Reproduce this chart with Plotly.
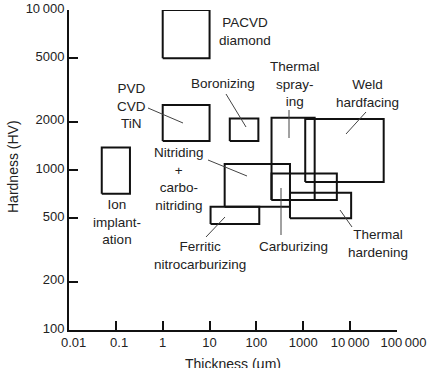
import plotly.graph_objects as go
import math

# ---- data ----
processes = ["PACVD diamond", "PVD CVD TiN", "Ion implantation", "Boronizing",
             "Thermal spraying", "Weld hardfacing", "Nitriding + carbonitriding",
             "Ferritic nitrocarburizing", "Carburizing", "Thermal hardening"]
thickness_min = [1, 1, 0.05, 27, 210, 1100, 21, 10.5, 210, 520]
thickness_max = [10, 10, 0.2, 110, 1750, 52000, 520, 115, 5200, 10500]
hardness_min = [5000, 1520, 710, 1520, 650, 840, 590, 460, 650, 500]
hardness_max = [10000, 2550, 1380, 2100, 2120, 2080, 1090, 590, 950, 720]

x_tickvals = [0.01, 0.1, 1, 10, 100, 1000, 10000, 100000]
x_ticktext = ["\u2002\u20090.01", "\u20020.1", "1", "10", "100", "1000", "10\u2009000",
              "\u2002\u2002100\u2009000"]
y_tickvals = [100, 200, 500, 1000, 2000, 5000, 10000]
y_ticktext = ["100", "200", "500", "1000", "2000", "5000", "10\u2009000"]

# ---- layout helpers (pixel -> paper) ----
L, R, T, B = 69, 397, 10, 330
def px(x): return (x - L) / (R - L)
def py(y): return (B - y) / (B - T)

labels = [
    ("PACVD<br>diamond", 245, 31.5),
    ("PVD<br>CVD<br>TiN", 131.5, 105.5),
    ("Boronizing", 223, 83),
    ("Thermal<br>spray-<br>ing", 295, 83.5),
    ("Weld<br>hardfacing", 367, 93),
    ("Nitriding<br>+<br>carbo-<br>nitriding", 179, 179),
    ("Ion<br>implant-<br>ation", 117, 222),
    ("Ferritic<br>nitrocarburizing", 200, 255),
    ("Carburizing", 293, 246),
    ("Thermal<br>hardening", 378, 243.5),
]
leaders = [
    (148, 108, 183, 123), (226, 94, 246, 127), (289, 110, 289, 138),
    (366, 112, 346, 134), (208, 160, 247, 176), (206, 237, 225, 217),
    (281, 188, 281, 235), (340, 210, 352, 227),
]

fig = go.Figure()
for n, x0, x1, y0, y1 in zip(processes, thickness_min, thickness_max, hardness_min, hardness_max):
    fig.add_trace(go.Scatter(
        x=[x0, x1, x1, x0, x0], y=[y0, y0, y1, y1, y0], mode="lines", name=n,
        line=dict(color="#111111", width=2), hoverinfo="name", showlegend=False))

font = dict(family="Liberation Sans, Arial, sans-serif", size=13.5, color="#222222")
for text, x, y in labels:
    fig.add_annotation(text=text, x=px(x), y=py(y), xref="paper", yref="paper",
                       showarrow=False, font=font, xanchor="center", yanchor="middle")
for x0, y0, x1, y1 in leaders:
    fig.add_shape(type="line", xref="paper", yref="paper", x0=px(x0), y0=py(y0),
                  x1=px(x1), y1=py(y1), line=dict(color="#444444", width=1))

tfont = dict(family=font["family"], size=14, color="#222222")
fig.add_annotation(text="Hardness (HV)", x=px(3), y=py(167), xref="paper", yref="paper",
                   showarrow=False, textangle=-90, xanchor="left", yanchor="middle", font=tfont)
fig.add_annotation(text="Thickness (\u03bcm)", x=px(233), y=py(354), xref="paper", yref="paper",
                   showarrow=False, xanchor="center", yanchor="top", font=tfont)

axis_common = dict(showgrid=False, zeroline=False, showline=True, linecolor="#111111", linewidth=2,
                   ticks="inside", ticklen=9, tickwidth=1.5, tickcolor="#111111", automargin=False,
                   tickangle=0, tickfont=dict(family=font["family"], size=13, color="#222222"))
fig.update_xaxes(type="log", range=[-2, 5], tickvals=x_tickvals, ticktext=x_ticktext,
                 ticklabelstandoff=-1, **axis_common)
fig.update_yaxes(type="log", range=[2, 4], tickvals=y_tickvals, ticktext=y_ticktext,
                 ticklabelshift=-2, **axis_common)

fig.update_layout(width=447, height=368, margin=dict(l=L, r=447 - R, t=T, b=368 - B, autoexpand=False),
                  paper_bgcolor="white", plot_bgcolor="white")
fig.write_html("out.html")
